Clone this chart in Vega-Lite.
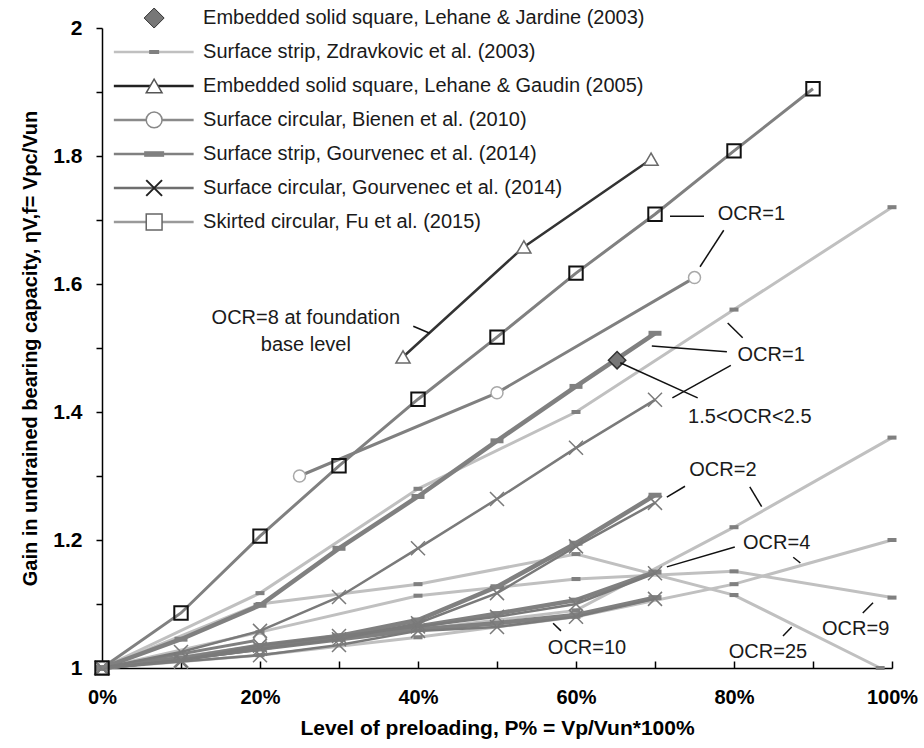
{
  "$schema": "https://vega.github.io/schema/vega-lite/v6.json",
  "width": 790,
  "height": 640,
  "autosize": {"type": "none"},
  "padding": {"left": 102, "top": 28, "right": 32, "bottom": 80},
  "background": "white",
  "config": {"view": {"stroke": null}, "font": "Liberation Sans"},
  "datasets": {
    "pts": [
      {"s": "Z", "g": "Z1", "x": 0, "y": 1}, {"s": "Z", "g": "Z1", "x": 20, "y": 1.117}, {"s": "Z", "g": "Z1", "x": 40, "y": 1.28}, {"s": "Z", "g": "Z1", "x": 60, "y": 1.4}, {"s": "Z", "g": "Z1", "x": 80, "y": 1.56}, {"s": "Z", "g": "Z1", "x": 100, "y": 1.72},
      {"s": "Z", "g": "Z2", "x": 0, "y": 1}, {"s": "Z", "g": "Z2", "x": 20, "y": 1.035}, {"s": "Z", "g": "Z2", "x": 40, "y": 1.06}, {"s": "Z", "g": "Z2", "x": 60, "y": 1.09}, {"s": "Z", "g": "Z2", "x": 80, "y": 1.22}, {"s": "Z", "g": "Z2", "x": 100, "y": 1.36},
      {"s": "Z", "g": "Z4", "x": 0, "y": 1}, {"s": "Z", "g": "Z4", "x": 20, "y": 1.02}, {"s": "Z", "g": "Z4", "x": 40, "y": 1.048}, {"s": "Z", "g": "Z4", "x": 60, "y": 1.08}, {"s": "Z", "g": "Z4", "x": 80, "y": 1.131}, {"s": "Z", "g": "Z4", "x": 100, "y": 1.2},
      {"s": "Z", "g": "Z9", "x": 0, "y": 1}, {"s": "Z", "g": "Z9", "x": 20, "y": 1.056}, {"s": "Z", "g": "Z9", "x": 40, "y": 1.113}, {"s": "Z", "g": "Z9", "x": 60, "y": 1.139}, {"s": "Z", "g": "Z9", "x": 80, "y": 1.151}, {"s": "Z", "g": "Z9", "x": 100, "y": 1.11},
      {"s": "Z", "g": "Z25", "x": 0, "y": 1}, {"s": "Z", "g": "Z25", "x": 20, "y": 1.1}, {"s": "Z", "g": "Z25", "x": 40, "y": 1.131}, {"s": "Z", "g": "Z25", "x": 60, "y": 1.178}, {"s": "Z", "g": "Z25", "x": 80, "y": 1.114}, {"s": "Z", "g": "Z25", "x": 98.5, "y": 1.0},
      {"s": "LG", "g": "LG0", "x": 0, "y": 1},
      {"s": "LG", "g": "LG1", "x": 38.1, "y": 1.486}, {"s": "LG", "g": "LG1", "x": 53.4, "y": 1.658}, {"s": "LG", "g": "LG1", "x": 69.5, "y": 1.795},
      {"s": "B", "g": "B1", "x": 25, "y": 1.3}, {"s": "B", "g": "B1", "x": 50, "y": 1.43}, {"s": "B", "g": "B1", "x": 75, "y": 1.61},
      {"s": "B", "g": "B2", "x": 0, "y": 1}, {"s": "B", "g": "B2", "x": 20, "y": 1.044},
      {"s": "GS", "g": "GS1", "x": 0, "y": 1}, {"s": "GS", "g": "GS1", "x": 10, "y": 1.045}, {"s": "GS", "g": "GS1", "x": 20, "y": 1.098}, {"s": "GS", "g": "GS1", "x": 30, "y": 1.187}, {"s": "GS", "g": "GS1", "x": 40, "y": 1.268}, {"s": "GS", "g": "GS1", "x": 50, "y": 1.355}, {"s": "GS", "g": "GS1", "x": 60, "y": 1.44}, {"s": "GS", "g": "GS1", "x": 70, "y": 1.523},
      {"s": "GS", "g": "GS2", "x": 0, "y": 1}, {"s": "GS", "g": "GS2", "x": 10, "y": 1.015}, {"s": "GS", "g": "GS2", "x": 20, "y": 1.03}, {"s": "GS", "g": "GS2", "x": 30, "y": 1.05}, {"s": "GS", "g": "GS2", "x": 40, "y": 1.075}, {"s": "GS", "g": "GS2", "x": 50, "y": 1.127}, {"s": "GS", "g": "GS2", "x": 60, "y": 1.195}, {"s": "GS", "g": "GS2", "x": 70, "y": 1.27},
      {"s": "GS", "g": "GS4", "x": 0, "y": 1}, {"s": "GS", "g": "GS4", "x": 10, "y": 1.015}, {"s": "GS", "g": "GS4", "x": 20, "y": 1.035}, {"s": "GS", "g": "GS4", "x": 30, "y": 1.05}, {"s": "GS", "g": "GS4", "x": 40, "y": 1.065}, {"s": "GS", "g": "GS4", "x": 50, "y": 1.085}, {"s": "GS", "g": "GS4", "x": 60, "y": 1.106}, {"s": "GS", "g": "GS4", "x": 70, "y": 1.15},
      {"s": "GS", "g": "GS10", "x": 0, "y": 1}, {"s": "GS", "g": "GS10", "x": 10, "y": 1.015}, {"s": "GS", "g": "GS10", "x": 20, "y": 1.03}, {"s": "GS", "g": "GS10", "x": 30, "y": 1.045}, {"s": "GS", "g": "GS10", "x": 40, "y": 1.06}, {"s": "GS", "g": "GS10", "x": 50, "y": 1.07}, {"s": "GS", "g": "GS10", "x": 60, "y": 1.083}, {"s": "GS", "g": "GS10", "x": 70, "y": 1.11},
      {"s": "GC", "g": "GC1", "x": 0, "y": 1}, {"s": "GC", "g": "GC1", "x": 10, "y": 1.025}, {"s": "GC", "g": "GC1", "x": 20, "y": 1.058}, {"s": "GC", "g": "GC1", "x": 30, "y": 1.111}, {"s": "GC", "g": "GC1", "x": 40, "y": 1.187}, {"s": "GC", "g": "GC1", "x": 50, "y": 1.264}, {"s": "GC", "g": "GC1", "x": 60, "y": 1.344}, {"s": "GC", "g": "GC1", "x": 70, "y": 1.419},
      {"s": "GC", "g": "GC2", "x": 0, "y": 1}, {"s": "GC", "g": "GC2", "x": 10, "y": 1.012}, {"s": "GC", "g": "GC2", "x": 20, "y": 1.03}, {"s": "GC", "g": "GC2", "x": 30, "y": 1.045}, {"s": "GC", "g": "GC2", "x": 40, "y": 1.07}, {"s": "GC", "g": "GC2", "x": 50, "y": 1.117}, {"s": "GC", "g": "GC2", "x": 60, "y": 1.19}, {"s": "GC", "g": "GC2", "x": 70, "y": 1.258},
      {"s": "GC", "g": "GC4", "x": 0, "y": 1}, {"s": "GC", "g": "GC4", "x": 10, "y": 1.012}, {"s": "GC", "g": "GC4", "x": 20, "y": 1.035}, {"s": "GC", "g": "GC4", "x": 30, "y": 1.05}, {"s": "GC", "g": "GC4", "x": 40, "y": 1.065}, {"s": "GC", "g": "GC4", "x": 50, "y": 1.08}, {"s": "GC", "g": "GC4", "x": 60, "y": 1.1}, {"s": "GC", "g": "GC4", "x": 70, "y": 1.148},
      {"s": "GC", "g": "GC10", "x": 0, "y": 1}, {"s": "GC", "g": "GC10", "x": 10, "y": 1.01}, {"s": "GC", "g": "GC10", "x": 20, "y": 1.02}, {"s": "GC", "g": "GC10", "x": 30, "y": 1.036}, {"s": "GC", "g": "GC10", "x": 40, "y": 1.058}, {"s": "GC", "g": "GC10", "x": 50, "y": 1.064}, {"s": "GC", "g": "GC10", "x": 60, "y": 1.08}, {"s": "GC", "g": "GC10", "x": 70, "y": 1.108},
      {"s": "F", "g": "F1", "x": 0, "y": 1}, {"s": "F", "g": "F1", "x": 10, "y": 1.086}, {"s": "F", "g": "F1", "x": 20, "y": 1.206}, {"s": "F", "g": "F1", "x": 30, "y": 1.316}, {"s": "F", "g": "F1", "x": 40, "y": 1.42}, {"s": "F", "g": "F1", "x": 50, "y": 1.517}, {"s": "F", "g": "F1", "x": 60, "y": 1.617}, {"s": "F", "g": "F1", "x": 70, "y": 1.709}, {"s": "F", "g": "F1", "x": 80, "y": 1.808}, {"s": "F", "g": "F1", "x": 90, "y": 1.905},
      {"s": "LJ", "g": "LJ1", "x": 65.2, "y": 1.481}
    ],
    "ann": [
      {"t": "OCR=1", "x": 82.2, "y": 1.709},
      {"t": "OCR=1", "x": 84.7, "y": 1.489},
      {"t": "1.5<OCR<2.5", "x": 82, "y": 1.392},
      {"t": "OCR=8 at foundation", "x": 25.8, "y": 1.547},
      {"t": "base level", "x": 25.8, "y": 1.505},
      {"t": "OCR=2", "x": 78.6, "y": 1.309},
      {"t": "OCR=4", "x": 85.4, "y": 1.195},
      {"t": "OCR=9", "x": 95.4, "y": 1.061},
      {"t": "OCR=25", "x": 84.3, "y": 1.025},
      {"t": "OCR=10", "x": 61.4, "y": 1.031}
    ],
    "lead": [
      {"x": 71.9, "y": 1.706, "x2": 76.2, "y2": 1.706},
      {"x": 78.7, "y": 1.684, "x2": 75.7, "y2": 1.627},
      {"x": 81.1, "y": 1.516, "x2": 79.2, "y2": 1.539},
      {"x": 79.1, "y": 1.494, "x2": 69.6, "y2": 1.503},
      {"x": 79.6, "y": 1.473, "x2": 72.2, "y2": 1.422},
      {"x": 75.4, "y": 1.422, "x2": 65.6, "y2": 1.477},
      {"x": 39.4, "y": 1.534, "x2": 41.5, "y2": 1.523},
      {"x": 71.5, "y": 1.267, "x2": 73.8, "y2": 1.284},
      {"x": 82, "y": 1.283, "x2": 83.5, "y2": 1.252},
      {"x": 71.5, "y": 1.158, "x2": 80.1, "y2": 1.189},
      {"x": 87.5, "y": 1.173, "x2": 88.4, "y2": 1.164},
      {"x": 96.3, "y": 1.086, "x2": 97.6, "y2": 1.102},
      {"x": 86.2, "y": 1.05, "x2": 87.3, "y2": 1.064},
      {"x": 58.1, "y": 1.058, "x2": 57.1, "y2": 1.07}
    ],
    "leg": [
      {"s": "LJ", "label": "Embedded solid square, Lehane & Jardine (2003)", "ly": 2.0156},
      {"s": "Z", "label": "Surface strip, Zdravkovic et al. (2003)", "ly": 1.9625},
      {"s": "LG", "label": "Embedded solid square, Lehane & Gaudin (2005)", "ly": 1.9094},
      {"s": "B", "label": "Surface circular, Bienen et al. (2010)", "ly": 1.8563},
      {"s": "GS", "label": "Surface strip, Gourvenec et al. (2014)", "ly": 1.8031},
      {"s": "GC", "label": "Surface circular, Gourvenec et al. (2014)", "ly": 1.75},
      {"s": "F", "label": "Skirted circular, Fu et al. (2015)", "ly": 1.6969}
    ]
  },
  "layer": [
    {
      "data": {"name": "pts"},
      "transform": [{"filter": "datum.s == 'Z'"}],
      "mark": {"type": "line", "color": "#c0c0c0", "strokeWidth": 3},
      "encoding": {
        "x": {"field": "x", "type": "quantitative", "scale": {"domain": [0, 100], "nice": false},
          "axis": {"values": [0, 10, 20, 30, 40, 50, 60, 70, 80, 90, 100], "labelExpr": "datum.value % 20 == 0 ? datum.value + '%' : ''",
            "title": "Level of preloading, P% = Vp/Vun*100%", "grid": false, "domainColor": "black", "domainWidth": 1.5,
            "tickColor": "black", "tickWidth": 1.5, "tickSize": -7, "labelPadding": 26, "labelFont": "Liberation Sans",
            "labelFontWeight": "bold", "labelFontSize": 20, "labelColor": "black", "labelOverlap": false, "labelFlush": false,
            "titleFont": "Liberation Sans", "titleFontWeight": "bold", "titleFontSize": 21, "titleColor": "black", "titlePadding": 10}},
        "y": {"field": "y", "type": "quantitative", "scale": {"domain": [1, 2], "nice": false, "zero": false},
          "axis": {"values": [1, 1.1, 1.2, 1.3, 1.4, 1.5, 1.6, 1.7, 1.8, 1.9, 2], "labelExpr": "round(datum.value * 10) % 2 == 0 ? format(datum.value, '~g') : ''",
            "title": "Gain in undrained bearing capacity, ηV,f= Vpc/Vun", "grid": false, "domainColor": "black", "domainWidth": 1.5,
            "tickColor": "black", "tickWidth": 1.5, "tickSize": 6, "labelPadding": 14, "labelFont": "Liberation Sans",
            "labelFontWeight": "bold", "labelFontSize": 21, "labelColor": "black", "labelOverlap": false, "labelFlush": false,
            "titleFont": "Liberation Sans", "titleFontWeight": "bold", "titleFontSize": 20, "titleColor": "black", "titlePadding": 12}},
        "detail": {"field": "g"},
        "order": {"field": "x", "type": "quantitative"}
      }
    },
    {
      "data": {"name": "pts"},
      "transform": [{"filter": "datum.s == 'Z'"}],
      "mark": {"type": "point", "shape": "M-1,-0.45H1V0.45H-1Z", "filled": true, "color": "#808080", "size": 81, "opacity": 1, "strokeWidth": 0},
      "encoding": {"x": {"field": "x", "type": "quantitative"}, "y": {"field": "y", "type": "quantitative"}}
    },
    {
      "data": {"name": "pts"},
      "transform": [{"filter": "datum.s == 'LG'"}],
      "mark": {"type": "line", "color": "#333333", "strokeWidth": 2.5},
      "encoding": {"x": {"field": "x", "type": "quantitative"}, "y": {"field": "y", "type": "quantitative"}, "detail": {"field": "g"}, "order": {"field": "x", "type": "quantitative"}}
    },
    {
      "data": {"name": "pts"},
      "transform": [{"filter": "datum.s == 'LG'"}],
      "mark": {"type": "point", "shape": "triangle-up", "filled": true, "fill": "white", "stroke": "#6a6a6a", "strokeWidth": 1.5, "size": 200, "opacity": 1},
      "encoding": {"x": {"field": "x", "type": "quantitative"}, "y": {"field": "y", "type": "quantitative"}}
    },
    {
      "data": {"name": "pts"},
      "transform": [{"filter": "datum.s == 'B'"}],
      "mark": {"type": "line", "color": "#808080", "strokeWidth": 3},
      "encoding": {"x": {"field": "x", "type": "quantitative"}, "y": {"field": "y", "type": "quantitative"}, "detail": {"field": "g"}, "order": {"field": "x", "type": "quantitative"}}
    },
    {
      "data": {"name": "pts"},
      "transform": [{"filter": "datum.s == 'B'"}],
      "mark": {"type": "point", "shape": "circle", "filled": true, "fill": "white", "stroke": "#a8a8a8", "strokeWidth": 1.5, "size": 144, "opacity": 1},
      "encoding": {"x": {"field": "x", "type": "quantitative"}, "y": {"field": "y", "type": "quantitative"}}
    },
    {
      "data": {"name": "pts"},
      "transform": [{"filter": "datum.s == 'GS'"}],
      "mark": {"type": "line", "color": "#808080", "strokeWidth": 4.5},
      "encoding": {"x": {"field": "x", "type": "quantitative"}, "y": {"field": "y", "type": "quantitative"}, "detail": {"field": "g"}, "order": {"field": "x", "type": "quantitative"}}
    },
    {
      "data": {"name": "pts"},
      "transform": [{"filter": "datum.s == 'GS'"}],
      "mark": {"type": "point", "shape": "M-1,-0.38H1V0.38H-1Z", "filled": true, "color": "#808080", "size": 169, "opacity": 1, "strokeWidth": 0},
      "encoding": {"x": {"field": "x", "type": "quantitative"}, "y": {"field": "y", "type": "quantitative"}}
    },
    {
      "data": {"name": "pts"},
      "transform": [{"filter": "datum.s == 'GC'"}],
      "mark": {"type": "line", "color": "#7a7a7a", "strokeWidth": 2.5},
      "encoding": {"x": {"field": "x", "type": "quantitative"}, "y": {"field": "y", "type": "quantitative"}, "detail": {"field": "g"}, "order": {"field": "x", "type": "quantitative"}}
    },
    {
      "data": {"name": "pts"},
      "transform": [{"filter": "datum.s == 'GC'"}],
      "mark": {"type": "point", "shape": "M-1,-1L1,1M1,-1L-1,1", "filled": false, "color": "#7a7a7a", "strokeWidth": 1.5, "size": 196, "opacity": 1},
      "encoding": {"x": {"field": "x", "type": "quantitative"}, "y": {"field": "y", "type": "quantitative"}}
    },
    {
      "data": {"name": "pts"},
      "transform": [{"filter": "datum.s == 'F'"}],
      "mark": {"type": "line", "color": "#808080", "strokeWidth": 3},
      "encoding": {"x": {"field": "x", "type": "quantitative"}, "y": {"field": "y", "type": "quantitative"}, "detail": {"field": "g"}, "order": {"field": "x", "type": "quantitative"}}
    },
    {
      "data": {"name": "pts"},
      "transform": [{"filter": "datum.s == 'F'"}],
      "mark": {"type": "point", "shape": "square", "filled": false, "color": "#111111", "strokeWidth": 2, "size": 180, "opacity": 1},
      "encoding": {"x": {"field": "x", "type": "quantitative"}, "y": {"field": "y", "type": "quantitative"}}
    },
    {
      "data": {"name": "pts"},
      "transform": [{"filter": "datum.s == 'LJ'"}],
      "mark": {"type": "point", "shape": "diamond", "filled": true, "fill": "#777777", "stroke": "#333333", "strokeWidth": 1.5, "size": 300, "opacity": 1},
      "encoding": {"x": {"field": "x", "type": "quantitative"}, "y": {"field": "y", "type": "quantitative"}}
    },
    {
      "data": {"name": "lead"},
      "mark": {"type": "rule", "color": "#111111", "strokeWidth": 1.5},
      "encoding": {"x": {"field": "x", "type": "quantitative"}, "y": {"field": "y", "type": "quantitative"}, "x2": {"field": "x2"}, "y2": {"field": "y2"}}
    },
    {
      "data": {"name": "ann"},
      "mark": {"type": "text", "font": "Liberation Sans", "fontSize": 20, "color": "#1a1a1a", "align": "center", "baseline": "middle"},
      "encoding": {"x": {"field": "x", "type": "quantitative"}, "y": {"field": "y", "type": "quantitative"}, "text": {"field": "t"}}
    },
    {
      "data": {"name": "leg"},
      "transform": [{"filter": "datum.s != 'LJ'"}],
      "mark": {"type": "rule"},
      "encoding": {
        "x": {"datum": 1.5}, "x2": {"datum": 11.6}, "y": {"field": "ly", "type": "quantitative"},
        "color": {"field": "s", "type": "nominal", "scale": {"domain": ["Z", "LG", "B", "GS", "GC", "F"], "range": ["#c0c0c0", "#222222", "#8a8a8a", "#808080", "#6e6e6e", "#9a9a9a"]}, "legend": null},
        "strokeWidth": {"field": "s", "type": "ordinal", "scale": {"domain": ["Z", "LG", "B", "GS", "GC", "F"], "range": [2.5, 2.5, 2.5, 2.5, 2.5, 2.5]}, "legend": null}
      }
    },
    {
      "data": {"name": "leg"},
      "transform": [{"filter": "datum.s == 'LJ'"}],
      "mark": {"type": "point", "shape": "diamond", "filled": true, "fill": "#777777", "stroke": "#333333", "strokeWidth": 1, "size": 400, "opacity": 1},
      "encoding": {"x": {"datum": 6.6}, "y": {"field": "ly", "type": "quantitative"}}
    },
    {
      "data": {"name": "leg"},
      "transform": [{"filter": "datum.s == 'Z'"}],
      "mark": {"type": "point", "shape": "M-1,-0.4H1V0.4H-1Z", "filled": true, "color": "#808080", "size": 100, "opacity": 1, "strokeWidth": 0},
      "encoding": {"x": {"datum": 6.6}, "y": {"field": "ly", "type": "quantitative"}}
    },
    {
      "data": {"name": "leg"},
      "transform": [{"filter": "datum.s == 'LG'"}],
      "mark": {"type": "point", "shape": "triangle-up", "filled": true, "fill": "white", "stroke": "#555555", "strokeWidth": 1.5, "size": 250, "opacity": 1},
      "encoding": {"x": {"datum": 6.6}, "y": {"field": "ly", "type": "quantitative"}}
    },
    {
      "data": {"name": "leg"},
      "transform": [{"filter": "datum.s == 'B'"}],
      "mark": {"type": "point", "shape": "circle", "filled": true, "fill": "white", "stroke": "#888888", "strokeWidth": 1.5, "size": 250, "opacity": 1},
      "encoding": {"x": {"datum": 6.6}, "y": {"field": "ly", "type": "quantitative"}}
    },
    {
      "data": {"name": "leg"},
      "transform": [{"filter": "datum.s == 'GS'"}],
      "mark": {"type": "point", "shape": "M-1,-0.28H1V0.28H-1Z", "filled": true, "color": "#808080", "size": 400, "opacity": 1, "strokeWidth": 0},
      "encoding": {"x": {"datum": 6.6}, "y": {"field": "ly", "type": "quantitative"}}
    },
    {
      "data": {"name": "leg"},
      "transform": [{"filter": "datum.s == 'GC'"}],
      "mark": {"type": "point", "shape": "M-1,-1L1,1M1,-1L-1,1", "filled": false, "color": "#222222", "strokeWidth": 2, "size": 250, "opacity": 1},
      "encoding": {"x": {"datum": 6.6}, "y": {"field": "ly", "type": "quantitative"}}
    },
    {
      "data": {"name": "leg"},
      "transform": [{"filter": "datum.s == 'F'"}],
      "mark": {"type": "point", "shape": "square", "filled": true, "fill": "white", "stroke": "#666666", "strokeWidth": 1.5, "size": 250, "opacity": 1},
      "encoding": {"x": {"datum": 6.6}, "y": {"field": "ly", "type": "quantitative"}}
    },
    {
      "data": {"name": "leg"},
      "mark": {"type": "text", "font": "Liberation Sans", "fontSize": 20, "color": "#1a1a1a", "align": "left", "baseline": "middle"},
      "encoding": {"x": {"datum": 12.8}, "y": {"field": "ly", "type": "quantitative"}, "text": {"field": "label"}}
    }
  ]
}
